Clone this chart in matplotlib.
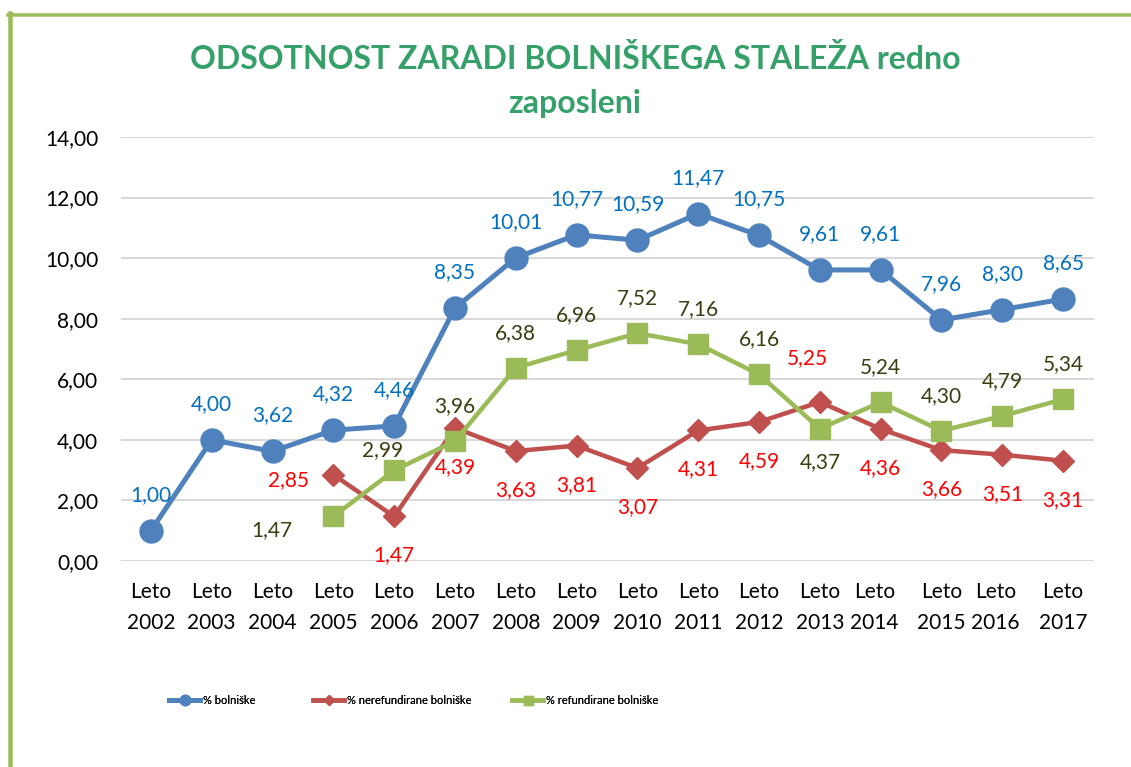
import matplotlib
matplotlib.use("Agg")
import matplotlib.pyplot as plt
from matplotlib.lines import Line2D
from matplotlib.transforms import ScaledTranslation

plt.rcParams['font.family'] = ['Lato', 'DejaVu Sans']

# ---- data ----
years = ["2002", "2003", "2004", "2005", "2006", "2007", "2008", "2009",
         "2010", "2011", "2012", "2013", "2014", "2015", "2016", "2017"]
categories = ["Leto\n" + y for y in years]
bolniske = [1.00, 4.00, 3.62, 4.32, 4.46, 8.35, 10.01, 10.77, 10.59, 11.47,
            10.75, 9.61, 9.61, 7.96, 8.30, 8.65]
nerefund_years = years[3:]
nerefundirane = [2.85, 1.47, 4.39, 3.63, 3.81, 3.07, 4.31, 4.59, 5.25, 4.36,
                 3.66, 3.51, 3.31]
refund_years = years[3:]
refundirane = [1.47, 2.99, 3.96, 6.38, 6.96, 7.52, 7.16, 6.16, 4.37, 5.24,
               4.30, 4.79, 5.34]
yticks = [0, 2, 4, 6, 8, 10, 12, 14]
title = "ODSOTNOST ZARADI BOLNIŠKEGA STALEŽA redno\nzaposleni"
names = ["% bolniške", "% nerefundirane bolniške", "% refundirane bolniške"]

# ---- style ----
W, H, DPI = 1131, 767, 100
BLUE, RED, GREEN = "#4F81BD", "#C0504D", "#9BBB59"
LBL_BLUE, LBL_RED, LBL_GREEN = "#0070C0", "#FF0000", "#3C3C10"
TITLE_C = "#36A06A"

fig = plt.figure(figsize=(W / DPI, H / DPI), dpi=DPI)
ax = fig.add_axes([120.5 / W, 1 - 561 / H, 973 / W, (561 - 137) / H])

xpos = {y: i for i, y in enumerate(years)}
xb = [xpos[y] for y in years]
xr = [xpos[y] for y in nerefund_years]
xg = [xpos[y] for y in refund_years]

px = 72.0 / DPI  # points per pixel

lb, = ax.plot(xb, bolniske, color=BLUE, lw=5 * px, marker='o', ms=23 * px,
              label=names[0], zorder=3)
lr, = ax.plot(xr, nerefundirane, color=RED, lw=4.5 * px, marker='D', ms=16 * px,
              label=names[1], zorder=4)
lg, = ax.plot(xg, refundirane, color=GREEN, lw=4.5 * px, marker='s', ms=20 * px,
              label=names[2], zorder=5)

ax.set_xlim(-0.5, len(years) - 0.5)
ax.set_ylim(0, 14)
ax.set_yticks(yticks)
ax.set_yticklabels([f"{v:.2f}".replace(".", ",") for v in yticks])
ax.set_xticks(range(len(years)))
ax.set_xticklabels(categories, linespacing=1.7)
ax.grid(axis='y', color="#D9D9D9", lw=2 * px)
ax.set_axisbelow(True)
for s in ax.spines.values():
    s.set_visible(False)
ax.tick_params(axis='both', length=0, labelsize=15, colors="black")
ax.tick_params(axis='y', pad=16)
ax.tick_params(axis='x', pad=15)

# small shifts of some category labels as in reference
shifts = {"2014": -6, "2016": -7}
for lab, y in zip(ax.get_xticklabels(), years):
    if y in shifts:
        lab.set_transform(lab.get_transform() +
                          ScaledTranslation(shifts[y] / DPI, 0, fig.dpi_scale_trans))

def fmt(v):
    return f"{v:.2f}".replace(".", ",")

def put_labels(xs, vals, color, default, special):
    for i, (x, v) in enumerate(zip(xs, vals)):
        dx, dy, ha = special.get(i, (default[0], default[1], 'center'))
        ax.annotate(fmt(v), (x, v), xytext=(dx * px, dy * px),
                    textcoords='offset points', ha=ha, va='center',
                    fontsize=15, color=color, zorder=6)

put_labels(xb, bolniske, LBL_BLUE, (0, 36), {})
put_labels(xr, nerefundirane, LBL_RED, (0, -39),
           {0: (-24, -5, 'right'), 8: (-12, 44, 'center')})
put_labels(xg, refundirane, LBL_GREEN, (0, 35),
           {0: (-62, -14, 'center'), 1: (-12, 20, 'center'),
            8: (0, -33, 'center')})

fig.text(575 / W, 1 - 81 / H, title, ha='center', va='center',
         fontsize=23, fontweight='bold', color=TITLE_C, linespacing=1.62)

# legend: three entries placed like the reference
for handle, x0 in zip([lb, lr, lg], [169, 313, 512]):
    leg = fig.legend([handle], [handle.get_label()], loc='center left',
                     bbox_to_anchor=(x0 / W, 1 - 700 / H), frameon=False,
                     fontsize=8, handlelength=2.8, handletextpad=0.25,
                     borderpad=0, borderaxespad=0, markerscale=0.45)
    fig.add_artist(leg)

# green frame (top and left)
fig.add_artist(Line2D([9.5 / W, 9.5 / W], [0, 1 - 13 / H], color=GREEN,
                      lw=4.5 * px, transform=fig.transFigure))
fig.add_artist(Line2D([8 / W, 1], [1 - 14.5 / H, 1 - 14.5 / H], color=GREEN,
                      lw=3.5 * px, transform=fig.transFigure))

fig.savefig("out.png", dpi=DPI)
